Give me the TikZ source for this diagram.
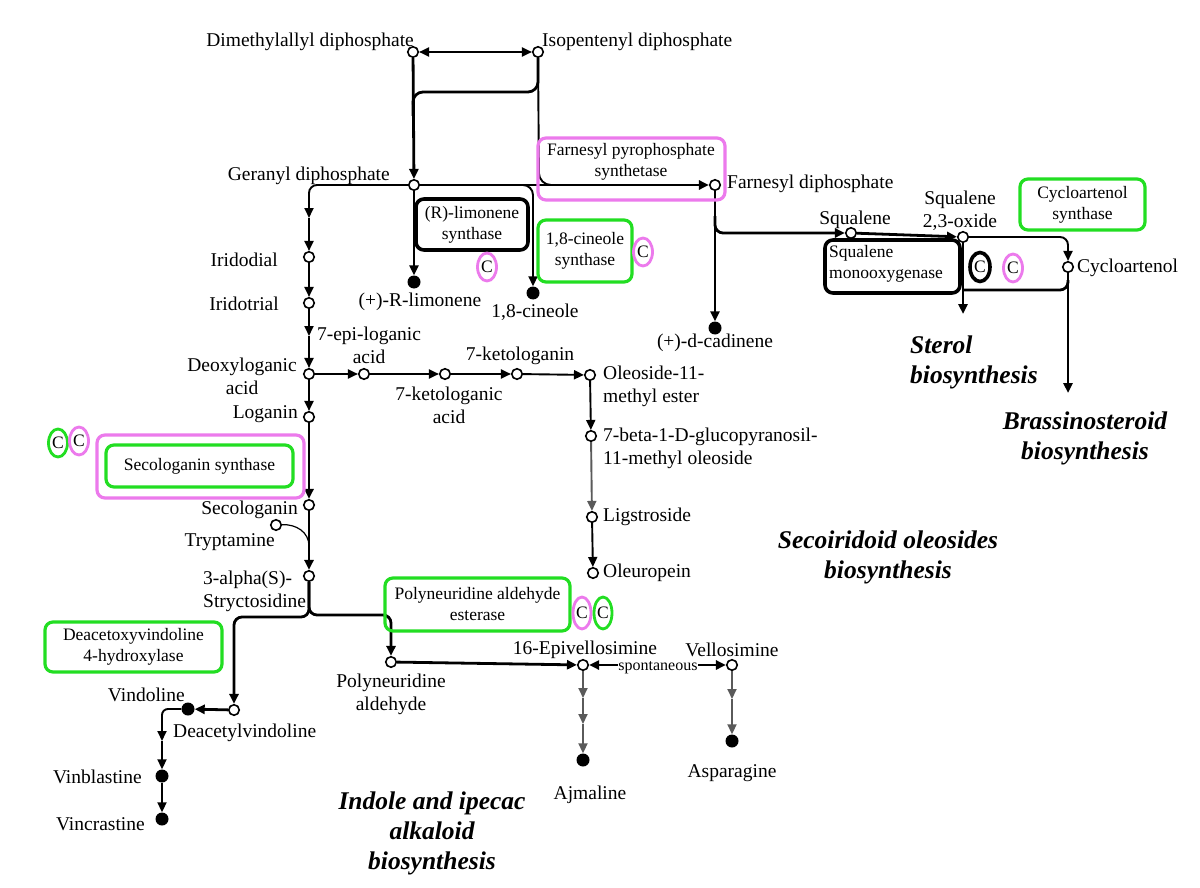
\documentclass[tikz,border=0pt]{standalone}
\usepackage{fontspec}
\setmainfont{Liberation Serif}
\usetikzlibrary{arrows.meta,shapes.geometric}
\definecolor{vio}{RGB}{236,122,236}
\definecolor{grn}{RGB}{34,222,34}
\definecolor{gln}{RGB}{90,90,90}
\newcommand\mylbf{\fontsize{19.5}{23}\selectfont}
\newcommand\myenf{\fontsize{17.5}{21}\selectfont}
\newcommand\myspf{\fontsize{16}{18}\selectfont}
\newcommand\myttl{\fontsize{25.5}{30}\selectfont\bfseries\itshape}
\begin{document}
\begin{tikzpicture}[x=1pt,y=-1pt,
  >={Triangle[length=10pt,width=9pt]},
  met/.style={circle,draw,line width=1.6pt,fill=white,minimum size=10.5pt,inner sep=0pt},
  fmet/.style={circle,fill=black,minimum size=13pt,inner sep=0pt},
  lbl/.style={font=\mylbf,inner sep=0pt},
  enz/.style={font=\myenf,align=center,inner sep=0pt},
  pbox/.style={draw=vio,line width=3.2pt,rounded corners=8pt,inner sep=0pt,font=\myenf,align=center},
  gbox/.style={draw=grn,line width=3.2pt,rounded corners=8pt,inner sep=0pt,font=\myenf,align=center},
  kbox/.style={draw=black,line width=3.6pt,rounded corners=8pt,inner sep=0pt,font=\myenf,align=center},
  cp/.style={ellipse,draw=vio,line width=2.8pt,minimum width=19pt,minimum height=28pt,inner sep=0pt,font=\myenf},
  cg/.style={ellipse,draw=grn,line width=2.8pt,minimum width=19pt,minimum height=28pt,inner sep=0pt,font=\myenf},
  ck/.style={ellipse,draw=black,line width=3.6pt,minimum width=20pt,minimum height=29pt,inner sep=0pt,font=\myenf},
  tk/.style={line width=2.8pt},
  tm/.style={line width=1.9pt},
  tn/.style={line width=1.2pt},
  ttl/.style={font=\myttl,align=center,inner sep=0pt}]
\useasboundingbox (0,0) rectangle (1200,888);
\fill[white] (0,0) rectangle (1200,888);

% ---------- metabolites ----------
\node[met] (dmapp) at (413,52) {};
\node[met] (ipp) at (538,52) {};
\node[met] (gpp) at (414,185) {};
\node[met] (fpp) at (715,185) {};
\node[fmet] (lim) at (414,282) {};
\node[fmet] (cin) at (533,293) {};
\node[fmet] (cad) at (715,328) {};
\node[met] (sq) at (851,233) {};
\node[met] (sqo) at (963,237) {};
\node[met] (cyc) at (1068,267) {};
\node[met] (irl) at (309,257) {};
\node[met] (irt) at (309,303) {};
\node[met] (deo) at (309,374) {};
\node[met] (epi7) at (364,374) {};
\node[met] (kla) at (445,374) {};
\node[met] (klg) at (517,374) {};
\node[met] (ole) at (590,375) {};
\node[met] (glu) at (591,436) {};
\node[met] (lig) at (592,517) {};
\node[met] (oleu) at (593,573) {};
\node[met] (log) at (309,417) {};
\node[met] (sec) at (309,505) {};
\node[met] (try) at (276,525) {};
\node[met] (str) at (309,576) {};
\node[met] (pol) at (391,662) {};
\node[met] (epv) at (583,665) {};
\node[met] (vel) at (732,665) {};
\node[met] (dav) at (234,710) {};
\node[fmet] (vdl) at (188,709) {};
\node[fmet] (ajm) at (583,760) {};
\node[fmet] (asp) at (732,741) {};
\node[fmet] (vbl) at (162,776) {};
\node[fmet] (vcr) at (162,819) {};

% ---------- helper coordinates ----------
\coordinate (j1) at (413,116);
\coordinate (j2) at (572,185);
\coordinate (j3) at (518,185);
\coordinate (ga1) at (309,218);
\coordinate (gb1) at (309,336);
\coordinate (j4) at (309,546);
\coordinate (aj1) at (583,698);
\coordinate (aj2) at (583,724);
\coordinate (vs1) at (732,699);
\coordinate (vb1) at (162,741);
\coordinate (j5) at (715,216);
\coordinate (st) at (963,314);
\coordinate (j6) at (963,290);
\coordinate (j7) at (1068,280);
\coordinate (br) at (1068,393);

% ---------- connectors ----------
\draw[tm,<->] (dmapp) -- (ipp);
\draw[tk,->] (dmapp) -- (gpp);
\draw[tk,rounded corners=10pt] (ipp) -- (538,92) -- (413,92) -- (j1);
\draw[tm,rounded corners=12pt] (ipp) -- (539,185) -- (j2);
\draw[tk,->] (gpp) -- (fpp);
\draw[tk,->] (gpp) -- (lim);
\draw[tm,->,rounded corners=10pt] (j3) -- (533,185) -- (cin);
\draw[tm,->,rounded corners=8pt] (gpp) -- (309,185) -- (ga1);
\draw[tm,->] (ga1) -- (irl);
\draw[tm,->] (irl) -- (irt);
\draw[tm,->] (irt) -- (gb1);
\draw[tm,->] (gb1) -- (deo);
\draw[tm,->] (deo) -- (log);
\draw[tk,->] (log) -- (sec);
\draw[tn] (try) .. controls (296,524) and (309,532) .. (j4);
\draw[tk,->] (sec) -- (str);
\draw[tk,->,rounded corners=8pt] (str) -- (309,617) -- (234,617) -- (dav);
\draw[tk,->,rounded corners=8pt] (str) -- (309,615) -- (391,615) -- (pol);
\draw[tk,->] (pol) -- (epv);
\draw[tk,<->] (epv) -- (vel);
\draw[tm,gln,->] (epv) -- (aj1);
\draw[tm,gln,->] (aj1) -- (aj2);
\draw[tm,gln,->] (aj2) -- (ajm);
\draw[tm,gln,->] (vel) -- (vs1);
\draw[tm,gln,->] (vs1) -- (asp);
\draw[tk,->] (dav) -- (vdl);
\draw[tm,->,rounded corners=6pt] (vdl) -- (162,709) -- (vb1);
\draw[tm,->] (vb1) -- (vbl);
\draw[tm,->] (vbl) -- (vcr);
\draw[tm,->] (deo) -- (epi7);
\draw[tm,->] (epi7) -- (kla);
\draw[tm,->] (kla) -- (klg);
\draw[tm,->] (klg) -- (ole);
\draw[tm,->] (ole) -- (glu);
\draw[tm,gln,->] (glu) -- (lig);
\draw[tm,->] (lig) -- (oleu);
\draw[tk,->] (fpp) -- (cad);
\draw[tk,->,rounded corners=8pt] (j5) -- (715,233) -- (sq);
\draw[tk,->] (sq) -- (sqo);
\draw[tk,->] (sqo) -- (st);
\draw[tm,->,rounded corners=8pt] (sqo) -- (1068,237) -- (cyc);
\draw[tk,rounded corners=8pt] (j6) -- (1068,290) -- (j7);
\draw[tk,->] (cyc) -- (br);

% ---------- enzymes ----------
\node[pbox,minimum width=187pt,minimum height=62pt] (fpps) at (631.5,169) {};
\node[enz] (fppst) at (631,162) {Farnesyl pyrophosphate\\synthetase};
\node[kbox,minimum width=112pt,minimum height=51pt] (lims) at (472,224.5) {(R)-limonene\\synthase};
\node[gbox,minimum width=94pt,minimum height=62pt] (cins) at (585,251) {1,8-cineole\\synthase};
\node[cp] (c1) at (487,267) {C};
\node[cp] (c2) at (643,252) {C};
\node[kbox,minimum width=135pt,minimum height=53pt] (sqm) at (892.5,266.5) {};
\node[enz,align=left,anchor=west] (sqmt) at (829,264) {Squalene\\monooxygenase};
\node[ck] (c3) at (980,267) {C};
\node[cp] (c4) at (1013,268) {C};
\node[gbox,minimum width=125pt,minimum height=51pt] (cycs) at (1082.5,204.5) {Cycloartenol\\synthase};
\node[pbox,minimum width=207pt,minimum height=63pt] (secp) at (200.5,466.5) {};
\node[gbox,minimum width=187pt,minimum height=42pt] (secg) at (199.5,466) {Secologanin synthase};
\node[cg] (c5) at (58,443) {C};
\node[cp] (c6) at (79,441) {C};
\node[gbox,minimum width=185pt,minimum height=53pt] (pae) at (477.5,604.5) {Polyneuridine aldehyde\\esterase};
\node[cp,minimum height=32pt,minimum width=18pt] (c7) at (582,613) {C};
\node[cg,minimum height=32pt,minimum width=18pt] (c8) at (603,613) {C};
\node[gbox,minimum width=177pt,minimum height=50pt] (dvh) at (133.5,647) {Deacetoxyvindoline\\4-hydroxylase};

% ---------- labels ----------
\node[lbl,anchor=east] (ldmapp) at (414,42) {Dimethylallyl diphosphate};
\node[lbl,anchor=west] (lipp) at (542,42) {Isopentenyl diphosphate};
\node[lbl,anchor=east] (lgpp) at (390,176) {Geranyl diphosphate};
\node[lbl,anchor=west] (lfpp) at (727,184) {Farnesyl diphosphate};
\node[lbl] (llim) at (420,302) {(+)-R-limonene};
\node[lbl] (lcin) at (535,312) {1,8-cineole};
\node[lbl] (lcad) at (715,343) {(+)-d-cadinene};
\node[lbl] (lsq) at (855,220) {Squalene};
\node[lbl,align=center] (lsqo) at (960,211) {Squalene\\2,3-oxide};
\node[lbl,anchor=west] (lcyc) at (1077,268) {Cycloartenol};
\node[lbl,anchor=east] (lirl) at (278,260) {Iridodial};
\node[lbl,anchor=east] (lirt) at (279,304) {Iridotrial};
\node[lbl,align=center] (lepi7) at (369,345) {7-epi-loganic\\acid};
\node[lbl,align=center,anchor=east] (ldeo) at (297,376) {Deoxyloganic\\acid};
\node[lbl,anchor=east] (llog) at (298,414) {Loganin};
\node[lbl,align=center] (lkla) at (449,405) {7-ketologanic\\acid};
\node[lbl] (lklg) at (520,356) {7-ketologanin};
\node[lbl,align=left,anchor=west] (lole) at (603,386) {Oleoside-11-\\methyl ester};
\node[lbl,align=left,anchor=west] (lglu) at (603,448) {7-beta-1-D-glucopyranosil-\\11-methyl oleoside};
\node[lbl,anchor=west] (llig) at (603,517) {Ligstroside};
\node[lbl,anchor=west] (loleu) at (603,573) {Oleuropein};
\node[lbl,anchor=east] (lsec) at (298,510) {Secologanin};
\node[lbl,anchor=east] (ltry) at (275,542) {Tryptamine};
\node[lbl,align=left,anchor=west] (lstr) at (203,591) {3-alpha(S)-\\Stryctosidine};
\node[lbl,align=center] (lpol) at (391,694) {Polyneuridine\\aldehyde};
\node[lbl] (lepv) at (585,650) {16-Epivellosimine};
\node[lbl] (lvel) at (732,650) {Vellosimine};
\node[font=\myspf,fill=white,inner sep=0.5pt] (lspo) at (658,668) {spontaneous};
\node[lbl] (lajm) at (590,795) {Ajmaline};
\node[lbl] (lasp) at (732,773) {Asparagine};
\node[lbl,anchor=east] (lvdl) at (185,695) {Vindoline};
\node[lbl,anchor=west] (ldav) at (173,733) {Deacetylvindoline};
\node[lbl,anchor=east] (lvbl) at (142,777) {Vinblastine};
\node[lbl,anchor=east] (lvcr) at (145,824) {Vincrastine};

% ---------- pathway titles ----------
\node[ttl,align=left,anchor=west] (tst) at (910,362) {Sterol\\biosynthesis};
\node[ttl] (tbr) at (1085,438) {Brassinosteroid\\biosynthesis};
\node[ttl] (tse) at (888,557) {Secoiridoid oleosides\\biosynthesis};
\node[ttl] (tin) at (432,833) {Indole and ipecac\\alkaloid\\biosynthesis};
\end{tikzpicture}
\end{document}
